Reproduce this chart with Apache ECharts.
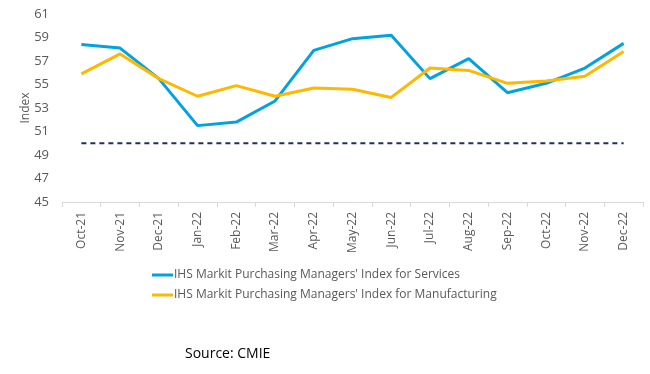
<!DOCTYPE html>
<html>
<head>
<meta charset="utf-8">
<script src="https://cdn.jsdelivr.net/npm/echarts@6/dist/echarts.min.js"></script>
<style>html,body{margin:0;padding:0;background:#fff}#c{width:650px;height:374px}</style>
</head>
<body>
<div id="c"></div>
<script>
var categories = ['Oct-21','Nov-21','Dec-21','Jan-22','Feb-22','Mar-22','Apr-22','May-22','Jun-22','Jul-22','Aug-22','Sep-22','Oct-22','Nov-22','Dec-22'];
var services = [58.4, 58.1, 55.5, 51.5, 51.8, 53.6, 57.9, 58.9, 59.2, 55.5, 57.2, 54.3, 55.1, 56.4, 58.5];
var manufacturing = [55.9, 57.6, 55.5, 54.0, 54.9, 54.0, 54.7, 54.6, 53.9, 56.4, 56.2, 55.1, 55.3, 55.7, 57.8];
var threshold = [50, 50, 50, 50, 50, 50, 50, 50, 50, 50, 50, 50, 50, 50, 50];
var yTicks = {min: 45, max: 61, interval: 2};
var seriesNames = ["IHS Markit Purchasing Managers' Index for Services", "IHS Markit Purchasing Managers' Index for Manufacturing"];

var font = "'Open Sans', 'Noto Sans', sans-serif";
var chart = echarts.init(document.getElementById('c'));
chart.setOption({
  animation: false,
  textStyle: {fontFamily: font},
  title: {
    text: 'Source: CMIE',
    left: 180, top: 342,
    textStyle: {fontSize: 14, fontWeight: 'normal', color: '#000', fontFamily: font}
  },
  grid: {left: 62, right: 7, top: 14, bottom: 172},
  legend: {
    orient: 'vertical', left: 147, top: 264,
    itemWidth: 21, itemHeight: 3, itemGap: 8,
    icon: 'rect',
    data: seriesNames,
    textStyle: {fontSize: 12, color: '#595959', fontFamily: font, padding: [0, 0, 0, -4]}
  },
  xAxis: {
    type: 'category', data: categories, boundaryGap: true,
    axisLine: {lineStyle: {color: '#D9D9D9'}},
    axisTick: {show: true, length: 5, lineStyle: {color: '#D9D9D9'}},
    axisLabel: {rotate: 90, fontSize: 12, color: '#595959', margin: 10, fontFamily: font}
  },
  yAxis: {
    type: 'value', min: yTicks.min, max: yTicks.max, interval: yTicks.interval,
    name: 'Index', nameLocation: 'middle', nameGap: 30, nameRotate: 90, nameMoveOverlap: false,
    nameTextStyle: {fontSize: 12, color: '#595959', fontFamily: font},
    axisLine: {show: false}, axisTick: {show: false}, splitLine: {show: false},
    axisLabel: {fontSize: 13, color: '#595959', margin: 13, fontFamily: font}
  },
  series: [
    {name: seriesNames[0], type: 'line', data: services, symbol: 'none',
     lineStyle: {color: '#00A3E0', width: 3}, itemStyle: {color: '#00A3E0'}},
    {name: seriesNames[1], type: 'line', data: manufacturing, symbol: 'none',
     lineStyle: {color: '#FFB800', width: 3}, itemStyle: {color: '#FFB800'}},
    {name: 'threshold', type: 'line', data: threshold, symbol: 'none',
     lineStyle: {color: '#1F2F5F', width: 2, type: [5, 4]}, silent: true}
  ]
});
</script>
</body>
</html>
